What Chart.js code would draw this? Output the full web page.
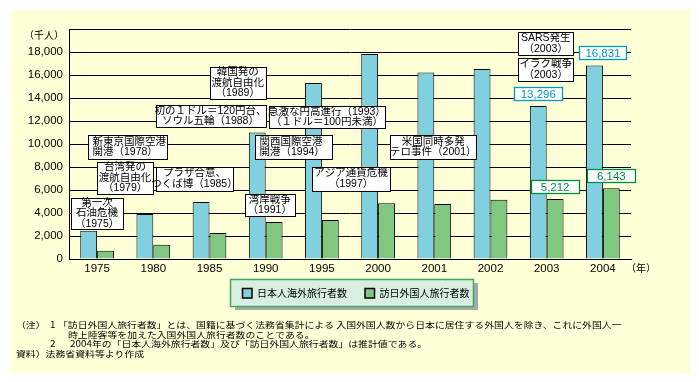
<!DOCTYPE html>
<html><head><meta charset="utf-8">
<script src="https://cdn.jsdelivr.net/npm/chart.js@4/dist/chart.umd.min.js"></script>
<style>html,body{margin:0;padding:0;background:#fff;}canvas{display:block}</style>
</head><body>
<canvas id="c" width="699" height="382"></canvas>
<script>
// ---- data ----
const categories = ['1975','1980','1985','1990','1995','2000','2001','2002','2003','2004'];
const japaneseOutbound = [2466,3909,4948,10997,15298,17819,16216,16523,13296,16831];
const foreignVisitors = [720,1230,2270,3220,3400,4850,4780,5150,5212,6143];
const seriesNames = ['日本人海外旅行者数','訪日外国人旅行者数'];
const yTicks = [0,2000,4000,6000,8000,10000,12000,14000,16000,18000,20000];
const unitLabel = '（千人）';
const yearLabel = '（年）';
const eventTexts = [
  ['第一次','石油危機','（1975）'],
  ['台湾発の','渡航自由化','（1979）'],
  ['新東京国際空港','開港（1978）'],
  ['プラザ合意、','つくば博（1985）'],
  ['初の１ドル＝120円台、','ソウル五輪（1988）'],
  ['韓国発の','渡航自由化','（1989）'],
  ['急激な円高進行（1993）','（１ドル＝100円未満）'],
  ['関西国際空港','開港（1994）'],
  ['湾岸戦争','（1991）'],
  ['アジア通貨危機','（1997）'],
  ['米国同時多発','テロ事件（2001）'],
  ['SARS発生','（2003）'],
  ['イラク戦争','（2003）']
];
const notes = [
  ['（注）', '1', '「訪日外国人旅行者数」とは、国籍に基づく法務省集計による 入国外国人数から日本に居住する外国人を除き、これに外国人一'],
  ['', '', '時上陸客等を加えた入国外国人旅行者数のことである。'],
  ['', '2', '2004年の「日本人海外旅行者数」及び「訪日外国人旅行者数」は推計値である。'],
  ['資料）法務省資料等より作成', '', '']
];

// ---- layout/style (not data) ----
const BLUE = '#80D0E0', GREEN = '#80C880';
const CJK = '"Noto Sans CJK JP"';
const annLayout = [
  {cat:0, dx:0,   y:3960,  w:52,  h:31},
  {cat:0, dx:28,  y:7040,  w:56,  h:32},
  {cat:0, dx:30,  y:9710,  w:79,  h:24, align:'left'},
  {cat:2, dx:-15, y:6990,  w:77,  h:24},
  {cat:2, dx:1,   y:12410, w:110, h:22},
  {cat:3, dx:-28, y:15310, w:56,  h:32},
  {cat:4, dx:5,   y:12350, w:116, h:22},
  {cat:4, dx:-28, y:9740,  w:77,  h:24, align:'left'},
  {cat:3, dx:4,   y:4690,  w:50,  h:22},
  {cat:5, dx:-27, y:6990,  w:78,  h:24},
  {cat:6, dx:-1,  y:9740,  w:86,  h:24},
  {cat:8, dx:-1,  y:18750, w:55,  h:23},
  {cat:8, dx:-1,  y:16490, w:55,  h:23}
];
const valueLabels = [
  {ds:0, idx:8, dx:0,   w:48, color:'#0099C8'},
  {ds:0, idx:9, dx:8.5, w:47, color:'#0099C8'},
  {ds:1, idx:8, dx:0,   w:48, color:'#008C40'},
  {ds:1, idx:9, dx:0,   w:48, color:'#008C40'}
];

const deco = {
  id:'deco',
  beforeDraw(chart){
    const ctx = chart.ctx;
    ctx.save();
    ctx.fillStyle = '#ffffff'; ctx.fillRect(0,0,chart.width,chart.height);
    ctx.fillStyle = '#FFFFD8'; ctx.fillRect(10,10,680,363);
    ctx.restore();
  },
  afterDraw(chart){
    const ctx = chart.ctx, xs = chart.scales.x, ys = chart.scales.y;
    ctx.save();
    // unit label & year label
    ctx.fillStyle = '#000';
    ctx.font = '10px ' + CJK;
    ctx.textBaseline = 'middle';
    ctx.textAlign = 'right';
    ctx.fillText(unitLabel, 64, ys.getPixelForValue(20000) + 6);
    ctx.textAlign = 'left';
    ctx.fillText(yearLabel, chart.chartArea.right - 5, chart.chartArea.bottom + 9);

    // event annotations
    const lh = 10.5;
    eventTexts.forEach((lines, i) => {
      const a = annLayout[i];
      const cx = xs.getPixelForValue(a.cat) + a.dx;
      const cy = ys.getPixelForValue(a.y);
      const x0 = Math.round(cx - a.w/2) + 0.5, y0 = Math.round(cy - a.h/2) + 0.5;
      ctx.fillStyle = '#fff'; ctx.fillRect(x0, y0, a.w, a.h);
      ctx.strokeStyle = '#000'; ctx.lineWidth = 1; ctx.strokeRect(x0, y0, a.w, a.h);
      ctx.fillStyle = '#000';
      ctx.font = '10.5px "Liberation Sans", ' + CJK;
      ctx.textBaseline = 'middle';
      const startY = cy - (lines.length - 1) * lh / 2;
      lines.forEach((t, k) => {
        if (a.align === 'left') { ctx.textAlign = 'left'; ctx.fillText(t, x0 + 4, startY + k*lh); }
        else { ctx.textAlign = 'center'; ctx.fillText(t, cx, startY + k*lh); }
      });
    });

    // value labels
    valueLabels.forEach(v => {
      const el = chart.getDatasetMeta(v.ds).data[v.idx];
      const val = chart.data.datasets[v.ds].data[v.idx];
      const cx = el.x + v.dx, h = 13;
      const x0 = Math.round(cx - v.w/2) + 0.5, y0 = Math.round(el.y - 6 - h) + 0.5;
      ctx.fillStyle = '#fff'; ctx.fillRect(x0, y0, v.w, h);
      ctx.strokeStyle = v.color; ctx.lineWidth = 1.3; ctx.strokeRect(x0, y0, v.w, h);
      ctx.fillStyle = v.color; ctx.font = '11.5px "Liberation Sans"';
      ctx.textAlign = 'center'; ctx.textBaseline = 'middle';
      ctx.fillText(val.toLocaleString('en-US'), cx, y0 + h/2 + 0.5);
    });

    // legend
    ctx.fillStyle = '#A8A8A8'; ctx.fillRect(235, 283, 243, 27);
    ctx.fillStyle = '#D8EEDF'; ctx.fillRect(230.5, 279.5, 243, 27);
    ctx.strokeStyle = '#40A860'; ctx.lineWidth = 1.5; ctx.strokeRect(230.5, 279.5, 243, 27);
    const legX = [242, 364.5];
    chart.data.datasets.forEach((ds, i) => {
      ctx.fillStyle = ds.backgroundColor; ctx.fillRect(legX[i]+0.5, 288.5, 9.5, 9.5);
      ctx.strokeStyle = '#000'; ctx.lineWidth = 1.5; ctx.strokeRect(legX[i]+0.5, 288.5, 9.5, 9.5);
      ctx.fillStyle = '#000'; ctx.font = '10px ' + CJK;
      ctx.textAlign = 'left'; ctx.textBaseline = 'middle';
      ctx.fillText(ds.label, legX[i] + 15, 293);
    });

    // notes (short, wide glyphs like the reference)
    const sx = 1.16;
    ctx.save();
    ctx.scale(sx, 1);
    ctx.fillStyle = '#000'; ctx.font = '8.5px ' + CJK; ctx.textAlign = 'left'; ctx.textBaseline = 'middle';
    const noteY = [325, 334.5, 344, 353.5];
    const colX = [[16, 50, 58],[16,50,68],[16,50,70],[16,50,58]];
    notes.forEach((row, i) => {
      row.forEach((t, k) => { if (t) ctx.fillText(t, colX[i][k] / sx, noteY[i]); });
    });
    ctx.restore();
    ctx.restore();
  }
};

new Chart(document.getElementById('c'), {
  type:'bar',
  data:{
    labels: categories,
    datasets:[
      {label: seriesNames[0], data: japaneseOutbound, backgroundColor: BLUE, borderColor:'#000', borderWidth:1, barPercentage:1, categoryPercentage:0.6},
      {label: seriesNames[1], data: foreignVisitors, backgroundColor: GREEN, borderColor:'#000', borderWidth:1, barPercentage:1, categoryPercentage:0.6}
    ]
  },
  options:{
    responsive:false, animation:false, devicePixelRatio:1,
    layout:{padding:{left:0, top:29, right:68, bottom:103}},
    plugins:{legend:{display:false}, tooltip:{enabled:false}},
    scales:{
      x:{
        grid:{display:false, drawTicks:false},
        border:{display:true, color:'#000', width:1},
        ticks:{color:'#000', font:{family:'Liberation Sans', size:11.5}, padding:3, maxRotation:0},
        afterFit(s){ s.height = 20; }
      },
      y:{
        min:0, max:20000,
        afterBuildTicks(s){ s.ticks = yTicks.map(v => ({value:v})); },
        grid:{color:'#000', lineWidth:1, drawTicks:false},
        border:{display:true, color:'#000', width:1},
        ticks:{color:'#000', font:{family:'Liberation Sans', size:11.5}, padding:6,
          callback:(v) => v === 20000 ? '' : v.toLocaleString('en-US')},
        afterFit(s){ s.width = 69; }
      }
    }
  },
  plugins:[deco]
});
</script>
</body></html>
